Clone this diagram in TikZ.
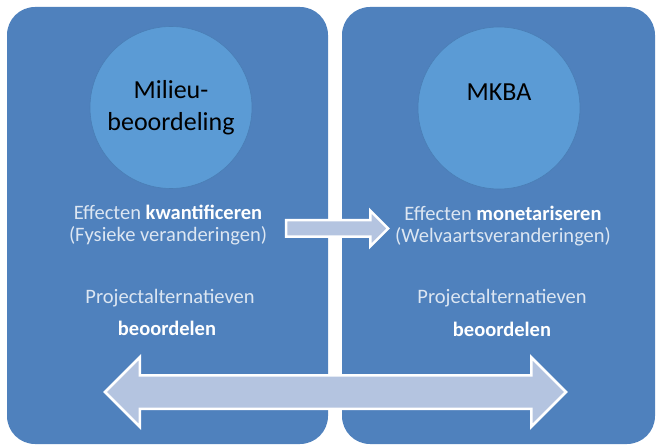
\documentclass[tikz,border=0pt]{standalone}
\usepackage{fontspec}
\setmainfont{Carlito}
\usetikzlibrary{shapes.arrows}
\definecolor{paneelblauw}{HTML}{4F81BD}
\definecolor{kringblauw}{HTML}{5B9BD5}
\definecolor{kringrand}{HTML}{4A7EB5}
\definecolor{pijlvul}{HTML}{B4C4E0}
\definecolor{lichttekst}{HTML}{DCE6F2}

\begin{document}
\begin{tikzpicture}[x=1pt, y=-1pt,
    paneel/.style={fill=paneelblauw, rounded corners=28pt, minimum height=437pt, inner sep=0pt},
    kring/.style={circle, fill=kringblauw, draw=kringrand, line width=0.6pt, minimum size=162pt, inner sep=0pt},
    kringtekst/.style={font=\fontsize{26}{32}\selectfont, align=center, text=black},
    tekst/.style={font=\fontsize{20.5}{22.5}\selectfont, align=center, text=lichttekst},
    blokpijl/.style={fill=pijlvul, draw=white, line width=2.5pt, inner sep=0pt, minimum width=0pt}]
                \useasboundingbox (0,0) rectangle (656,446);
                % Panels, circles, texts and arrows:
                \node[paneel, minimum width=321pt] (links) at (167.5,225.5) {};
                \node[paneel, minimum width=313pt] (rechts) at (498.5,225.5) {};
                \node[kring] (milieu) at (171,107.5) {};
                \node[kringtekst] (milieutekst) at (milieu.center) {Milieu-\\beoordeling};
                \node[kring] (mkba) at (499,108) {};
                \node[kringtekst] (mkbatekst) at ([yshift=16pt]mkba.center) {MKBA};
                \node[tekst] (kwant) at (168,225) {Effecten \textbf{\color{white}kwantificeren}\\(Fysieke veranderingen)};
                \node[tekst] (monet) at (503,226) {Effecten \textbf{\color{white}monetariseren}\\(Welvaartsveranderingen)};
                \node[tekst] (projlinks) at (170,298) {Projectalternatieven};
                \node[tekst, text=white] (beoorlinks) at (167,328) {\textbf{beoordelen}};
                \node[tekst] (projrechts) at (502,298) {Projectalternatieven};
                \node[tekst, text=white] (beoorrechts) at (502,329) {\textbf{beoordelen}};
                \node[blokpijl, single arrow, single arrow head extend=9.5pt, minimum height=102pt, inner ysep=7pt] (kleinepijl) at (333,228.5) {};
                \node[blokpijl, double arrow, double arrow head extend=18pt, minimum height=461pt, inner ysep=15.5pt] (grotepijl) at (335.5,392) {};
            \end{tikzpicture}
\end{document}
